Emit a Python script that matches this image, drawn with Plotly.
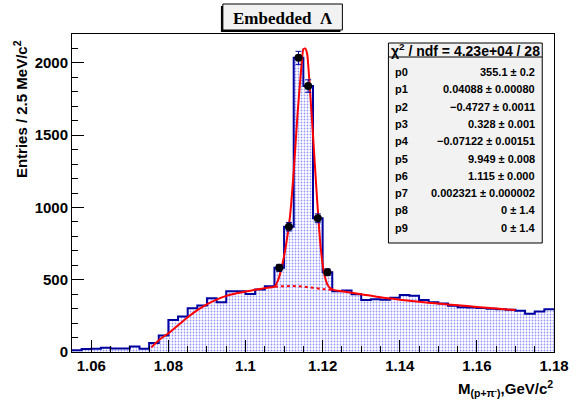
import numpy as np
import plotly.graph_objects as go

# ---------------- data ----------------
bin_low = 1.055
bin_width = 0.0025
counts = [12, 20, 22, 30, 25, 25, 38, 22, 62, 115,
          222, 245, 303, 322, 372, 345, 420, 420, 402, 432,
          455, 582, 867, 2035, 1840, 925, 552, 420, 425, 400,
          360, 365, 362, 375, 395, 390, 360, 345, 335, 320,
          310, 308, 305, 300, 295, 292, 285, 265, 280, 295]
peak_bins = [21, 22, 23, 24, 25, 26]

fit_x = [1.0756, 1.0775, 1.0800, 1.0825, 1.0850, 1.0875, 1.0900, 1.0925, 1.0950,
         1.0975, 1.1000, 1.1025, 1.1050, 1.1075, 1.1085, 1.1095, 1.1105, 1.1115,
         1.1125, 1.1135, 1.1145, 1.1150, 1.1155, 1.1160, 1.1165, 1.1175, 1.1185,
         1.1195, 1.1205, 1.1215, 1.1228, 1.1250, 1.1300, 1.1350, 1.1400, 1.1450,
         1.1500, 1.1550, 1.1600, 1.1650, 1.1700]
fit_y = [33, 82, 130, 185, 240, 290, 330, 362, 388,
         405, 418, 430, 442, 452, 500, 600, 740, 930,
         1250, 1650, 1980, 2095, 2100, 2060, 1900, 1500, 1080,
         720, 530, 455, 430, 420, 400, 378, 362, 348,
         335, 323, 312, 301, 290]
bkg_x = [1.1076, 1.1100, 1.1125, 1.1150, 1.1175, 1.1200, 1.1225]
bkg_y = [452, 455, 456, 452, 444, 436, 430]

x_ticks = [1.06, 1.08, 1.10, 1.12, 1.14, 1.16, 1.18]
x_ticktext = ["1.06", "1.08", "1.1", "1.12", "1.14", "1.16", "1.18"]
y_ticks = [0, 500, 1000, 1500, 2000]
y_ticktext = ["0", "500", "1000", "1500", "2000"]

stat_header = "χ<sup>2</sup> / ndf = 4.23e+04 / 28"
par_names = ["p0", "p1", "p2", "p3", "p4", "p5", "p6", "p7", "p8", "p9"]
par_values = ["355.1 ± 0.2", "0.04088 ± 0.00080", "−0.4727 ± 0.0011", "0.328 ± 0.001",
              "−0.07122 ± 0.00151", "9.949 ± 0.008", "1.115 ± 0.000",
              "0.002321 ± 0.000002", "0 ± 1.4", "0 ± 1.4"]

# ---------------- layout geometry ----------------
W, H = 581, 405
L, R, T, B = 72, 564, 34, 352   # plot frame in pixels


def px(x):
    return (x - L) / (R - L)


def py(y):
    return (B - y) / (B - T)


counts = np.array(counts, dtype=float)
nb = len(counts)
centers = bin_low + bin_width * (np.arange(nb) + 0.5)
edges = bin_low + bin_width * np.arange(nb + 1)

fig = go.Figure()

# filled histogram (dotted pattern)
fig.add_trace(go.Bar(
    x=centers, y=counts, width=bin_width,
    marker=dict(color="white", line=dict(width=0),
                pattern=dict(shape=".", fgcolor="#2a2aff", bgcolor="white",
                             size=3, solidity=0.28)),
    showlegend=False, hoverinfo="skip"))

# histogram outline
step_y = np.append(counts, counts[-1])
fig.add_trace(go.Scatter(
    x=edges, y=step_y, mode="lines", line=dict(color="#0000a0", width=2, shape="hv"),
    showlegend=False, hoverinfo="skip"))

# fit curve
fig.add_trace(go.Scatter(
    x=fit_x, y=fit_y, mode="lines", line=dict(color="#ff0000", width=2, shape="spline", smoothing=0.5),
    showlegend=False, hoverinfo="skip"))

# background under peak (dotted)
fig.add_trace(go.Scatter(
    x=bkg_x, y=bkg_y, mode="lines", line=dict(color="#ff0000", width=2, dash="dot", shape="spline"),
    showlegend=False, hoverinfo="skip"))

# data points in peak with errors
pk_x = [centers[i] for i in peak_bins]
pk_y = [counts[i] for i in peak_bins]
pk_e = [float(np.sqrt(counts[i])) for i in peak_bins]
fig.add_trace(go.Scatter(
    x=pk_x, y=pk_y, mode="markers",
    marker=dict(color="black", size=8),
    error_y=dict(type="data", array=pk_e, color="#0000a0", thickness=1, width=3),
    showlegend=False, hoverinfo="skip"))

SANS = "Liberation Sans, Arial, sans-serif"
font_b = dict(family=SANS, size=15, color="black", weight="bold")

shapes = []
annotations = []

# stats box
bx0, bx1, by0, by1 = 395, 552, 43, 243
shapes.append(dict(type="rect", xref="paper", yref="paper",
                   x0=px(bx0), x1=px(bx1), y0=py(by1), y1=py(by0),
                   line=dict(color="black", width=1), fillcolor="#f2f2f2", layer="above"))
shapes.append(dict(type="line", xref="paper", yref="paper",
                   x0=px(bx0), x1=px(bx1), y0=py(57), y1=py(57),
                   line=dict(color="black", width=1), layer="above"))
annotations.append(dict(xref="paper", yref="paper", x=px((bx0 + bx1) / 2), y=py(50),
                        text=stat_header, showarrow=False, xanchor="center", yanchor="middle",
                        font=dict(family=SANS, size=14, color="black", weight="bold")))
row_y0, row_dy = 72, 17.3
for i, (n, v) in enumerate(zip(par_names, par_values)):
    yy = row_y0 + i * row_dy
    annotations.append(dict(xref="paper", yref="paper", x=px(bx0 + 5), y=py(yy), text=n,
                            showarrow=False, xanchor="left", yanchor="middle",
                            font=dict(family=SANS, size=11, color="black", weight="bold")))
    annotations.append(dict(xref="paper", yref="paper", x=px(bx1 - 5), y=py(yy), text=v,
                            showarrow=False, xanchor="right", yanchor="middle",
                            font=dict(family=SANS, size=11, color="black", weight="bold")))

# title box
tx0, tx1, ty0, ty1 = 226, 348, 4, 30
shapes.append(dict(type="rect", xref="paper", yref="paper",
                   x0=px(tx0 - 2), x1=px(tx1 - 2), y0=py(ty1 + 2), y1=py(ty0 + 2),
                   line=dict(width=0), fillcolor="black", layer="above"))
shapes.append(dict(type="rect", xref="paper", yref="paper",
                   x0=px(tx0), x1=px(tx1), y0=py(ty1), y1=py(ty0),
                   line=dict(color="black", width=1), fillcolor="#f2f2f2", layer="above"))
annotations.append(dict(xref="paper", yref="paper", x=px((tx0 + tx1) / 2), y=py((ty0 + ty1) / 2 + 1),
                        text="Embedded  Λ", showarrow=False, xanchor="center", yanchor="middle",
                        font=dict(family="Liberation Serif, Times New Roman, serif", size=17,
                                  color="black", weight="bold")))

# axis titles
annotations.append(dict(xref="paper", yref="paper", x=px(565), y=py(376),
                        text="M<sub>(p+π<sup>-</sup>)</sub>,GeV/c<sup>2</sup>", showarrow=False,
                        xanchor="right", yanchor="top", font=dict(font_b, size=15)))
annotations.append(dict(xref="paper", yref="paper", x=px(19), y=py(38),
                        text="Entries / 2.5 MeV/c<sup>2</sup>", showarrow=False, textangle=-90,
                        xanchor="center", yanchor="top", font=dict(font_b, size=15)))

axis_common = dict(showline=True, linecolor="black", linewidth=1, mirror=True,
                   ticks="inside", ticklen=12, tickcolor="black", tickwidth=1,
                   showgrid=False, zeroline=False, tickfont=font_b)

fig.update_layout(
    width=W, height=H,
    margin=dict(l=L, r=W - R, t=T, b=H - B),
    paper_bgcolor="white", plot_bgcolor="white",
    bargap=0, showlegend=False,
    xaxis=dict(axis_common, range=[1.055, 1.18], tickvals=x_ticks, ticktext=x_ticktext,
               minor=dict(ticks="inside", ticklen=6, dtick=0.005, tick0=1.055, tickcolor="black", showgrid=False)),
    yaxis=dict(axis_common, range=[0, 2200], tickvals=y_ticks, ticktext=y_ticktext,
               minor=dict(ticks="inside", ticklen=6, dtick=100, tick0=0, tickcolor="black", showgrid=False)),
    shapes=shapes, annotations=annotations,
)

fig.write_html("out.html")
